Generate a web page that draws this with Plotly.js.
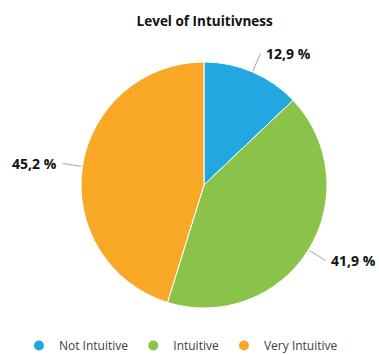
<!DOCTYPE html>
<html>
<head>
<meta charset="utf-8">
<script src="https://cdn.plot.ly/plotly-3.0.1.min.js"></script>
<style>
  html, body { margin: 0; padding: 0; background: #ffffff; }
  #chart { width: 379px; height: 355px; }
</style>
</head>
<body>
<div id="chart"></div>
<script>
// Share of answers per intuitiveness level (percent)
const categories = ["Not Intuitive", "Intuitive", "Very Intuitive"];
const shares = [12.9, 41.9, 45.2];
const sliceColors = ["#22A7E0", "#8BC34A", "#F9A825"];

const W = 379, H = 355;

const pie = {
  type: "pie",
  labels: categories,
  values: shares,
  sort: false,
  direction: "clockwise",
  rotation: 0,
  marker: { colors: sliceColors, line: { color: "#ffffff", width: 1 } },
  textinfo: "none",
  hoverinfo: "label+value",
  showlegend: false,
  domain: { x: [0.2137, 0.8628], y: [0.1324, 0.8254] }
};

// Legend entries with round markers
const legendItems = categories.map((name, i) => ({
  type: "scatter",
  mode: "markers",
  x: [null], y: [null],
  name: name,
  marker: { color: sliceColors[i], size: 10, symbol: "circle" },
  showlegend: true,
  hoverinfo: "skip"
}));

const layout = {
  width: W,
  height: H,
  margin: { l: 0, r: 0, t: 0, b: 0, autoexpand: false },
  paper_bgcolor: "#ffffff",
  plot_bgcolor: "#ffffff",
  title: {
    text: "<b>Level of Intuitivness</b>",
    x: 0.54, xanchor: "center",
    y: 0.941, yanchor: "middle",
    font: { family: "Open Sans, sans-serif", size: 13.5, color: "#111111" }
  },
  xaxis: { visible: false },
  yaxis: { visible: false },
  showlegend: true,
  legend: {
    orientation: "h",
    x: 0.05, xanchor: "left",
    y: 0.027, yanchor: "middle",
    font: { family: "Open Sans, sans-serif", size: 12, color: "#404040" },
    itemwidth: 30,
    tracegroupgap: 0,
    bgcolor: "rgba(0,0,0,0)"
  }
};

const fmt = v => v.toFixed(1).replace(".", ",") + " %";

// Value labels outside the pie, each tied to its slice by a short leader line,
// placed from the pie geometry that Plotly computed.
function valueLabels(gd) {
  const cd0 = gd.calcdata[0][0];
  const gs = gd._fullLayout._size;
  const total = shares.reduce((a, b) => a + b, 0);
  const lineLen = 19;
  let cum = 0;
  return shares.map(v => {
    const mid = (cum + v / 2) / total * 2 * Math.PI;
    cum += v;
    const sx = Math.sin(mid), cs = Math.cos(mid);
    const tipX = cd0.cx + (cd0.r + 1) * sx;
    const tipY = cd0.cy - (cd0.r + 1) * cs;
    return {
      x: (tipX - gs.l) / gs.w,
      y: 1 - (tipY - gs.t) / gs.h,
      xref: "paper", yref: "paper",
      text: "<b>" + fmt(v) + "</b>",
      showarrow: true,
      arrowhead: 0,
      arrowwidth: 1,
      arrowcolor: "#A6A6A6",
      ax: lineLen * sx,
      ay: -lineLen * cs,
      xanchor: sx >= 0 ? "left" : "right",
      yanchor: "middle",
      borderpad: 5,
      font: { family: "Open Sans, sans-serif", size: 14, color: "#111111" }
    };
  });
}

Plotly.newPlot("chart", [pie].concat(legendItems), layout, { displayModeBar: false, staticPlot: true })
  .then(gd => Plotly.relayout(gd, { annotations: valueLabels(gd) }));
</script>
</body>
</html>
